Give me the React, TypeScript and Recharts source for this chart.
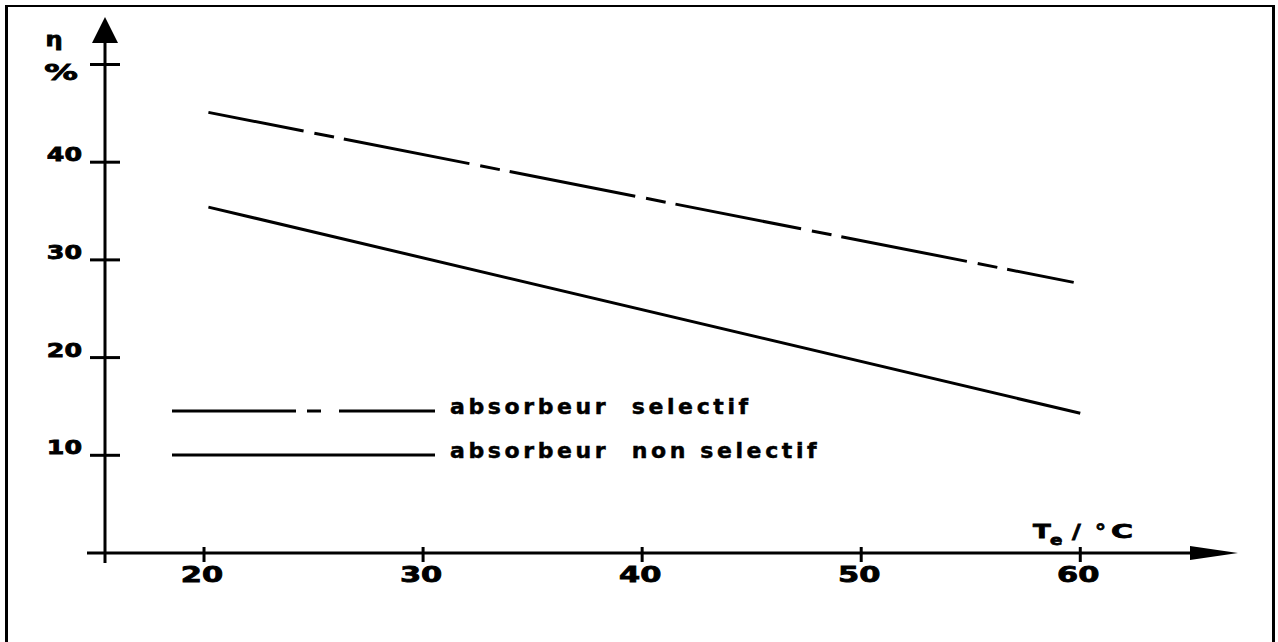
import React from "react";
import { LineChart, Line, XAxis, YAxis, ReferenceLine, Legend, Label } from "recharts";

// collector efficiency vs. inlet temperature
const selectiveTemps = [20.2, 59.7];
const selectiveEff = [45.1, 27.7];
const nonSelectiveTemps = [20.2, 60];
const nonSelectiveEff = [35.4, 14.3];

const seriesNames = ["absorbeur  selectif", "absorbeur  non selectif"];

const xTicks = [20, 30, 40, 50, 60];
const yTicks = [10, 20, 30, 40, 50];
const yTickLabels = ["10", "20", "30", "40", ""];

const X_DOMAIN: [number, number] = [15.48, 67.2];
const Y_DOMAIN: [number, number] = [0, 54.86];

const FONT = "'DejaVu Sans', sans-serif";
const INK = "#000";

const selectiveData = selectiveTemps.map((t, i) => ({ t, eff: selectiveEff[i] }));
const nonSelectiveData = nonSelectiveTemps.map((t, i) => ({ t, eff: nonSelectiveEff[i] }));

const legendDashes = ["124 11 14 18 96", undefined];

function WideText({ x, y, sx = 1, size, anchor = "start", children }: any) {
  return (
    <text
      transform={`translate(${x},${y}) scale(${sx},1)`}
      textAnchor={anchor}
      fontFamily={FONT}
      fontWeight="bold"
      fontSize={size}
      fill={INK}
      stroke={INK}
      strokeWidth={0.8}
    >
      {children}
    </text>
  );
}

function XTick({ x, y, payload }: any) {
  return (
    <g>
      <line x1={x} x2={x} y1={y - 6} y2={y + 9} stroke={INK} strokeWidth={3} />
      <WideText x={x - 2} y={y + 29} sx={1.45} size={21} anchor="middle">
        {payload.value}
      </WideText>
    </g>
  );
}

function YTick({ x, y, payload }: any) {
  const label = yTickLabels[yTicks.indexOf(payload.value)];
  return (
    <g>
      <line x1={x - 15} x2={x + 15} y1={y} y2={y} stroke={INK} strokeWidth={3} />
      {label ? (
        <WideText x={x - 23} y={y - 1} sx={1.33} size={19} anchor="end">
          {label}
        </WideText>
      ) : null}
    </g>
  );
}

// horizontal axis: runs a bit past the vertical axis, ends in an arrow
function XAxisArrow(props: any) {
  const left = Math.min(props.x1, props.x2);
  const right = Math.max(props.x1, props.x2);
  const y = props.y1;
  return (
    <g>
      <line x1={left - 18} x2={right - 40} y1={y} y2={y} stroke={INK} strokeWidth={3} />
      <polygon points={`${right},${y} ${right - 48},${y - 7} ${right - 48},${y + 7}`} fill={INK} />
    </g>
  );
}

function YAxisArrow(props: any) {
  const top = Math.min(props.y1, props.y2);
  const bottom = Math.max(props.y1, props.y2);
  const x = props.x1;
  return (
    <g>
      <line x1={x} x2={x} y1={bottom + 10} y2={top + 20} stroke={INK} strokeWidth={3} />
      <polygon points={`${x},${top} ${x - 13},${top + 26} ${x + 13},${top + 26}`} fill={INK} />
    </g>
  );
}

function YTitle({ viewBox }: any) {
  const { x, y } = viewBox;
  return (
    <g>
      <WideText x={x + 54} y={y + 29} sx={1.2} size={20} anchor="middle">
        η
      </WideText>
      <WideText x={x + 61} y={y + 63} sx={1.6} size={21} anchor="middle">
        %
      </WideText>
    </g>
  );
}

function XTitle({ viewBox }: any) {
  const right = viewBox.x + viewBox.width;
  const base = viewBox.y - 15;
  return (
    <g>
      <WideText x={right - 205} y={base} sx={1.3} size={20}>T</WideText>
      <WideText x={right - 188} y={base + 7} sx={1.3} size={14}>e</WideText>
      <WideText x={right - 166} y={base} sx={1.2} size={20}>/</WideText>
      <WideText x={right - 143} y={base} sx={1.1} size={20}>°</WideText>
      <WideText x={right - 127} y={base} sx={1.5} size={20}>C</WideText>
    </g>
  );
}

function LegendBox({ payload }: any) {
  // keep the rows in series order whatever order the payload arrives in
  const names: string[] =
    payload && payload.length
      ? payload
          .map((e: any) => e.value as string)
          .sort((a: string, b: string) => seriesNames.indexOf(a) - seriesNames.indexOf(b))
      : seriesNames;
  return (
    <svg width={700} height={80} style={{ display: "block" }}>
      {names.map((name) => {
        const i = seriesNames.indexOf(name);
        const y = 21 + i * 44;
        return (
          <g key={name}>
            <line x1={8} x2={271} y1={y} y2={y} stroke={INK} strokeWidth={3} strokeDasharray={legendDashes[i]} />
            <text
              x={286}
              y={y + 2.5}
              fontFamily={FONT}
              fontWeight="bold"
              fontSize={22}
              letterSpacing={3.6}
              fill={INK}
              stroke={INK}
              strokeWidth={0.5}
              style={{ whiteSpace: "pre" }}
            >
              {name}
            </text>
          </g>
        );
      })}
    </svg>
  );
}

export default function App() {
  return (
    <div style={{ position: "absolute", left: 0, top: 0, width: 1278, height: 642, background: "#fff", overflow: "hidden" }}>
      <div
        style={{
          position: "absolute",
          left: 5,
          top: 5,
          width: 1270,
          height: 640,
          boxSizing: "border-box",
          borderTop: "2px solid #000",
          borderLeft: "3px solid #000",
          borderRight: "3px solid #000",
        }}
      />
      <LineChart width={1278} height={642} margin={{ top: 17, right: 40, bottom: 0, left: 0 }}>
        <XAxis
          type="number"
          dataKey="t"
          domain={X_DOMAIN}
          allowDataOverflow
          ticks={xTicks}
          interval={0}
          height={89}
          axisLine={false}
          tickLine={false}
          tickSize={0}
          tickMargin={0}
          tick={<XTick />}
        >
          <Label content={<XTitle />} />
        </XAxis>
        <YAxis
          type="number"
          domain={Y_DOMAIN}
          allowDataOverflow
          ticks={yTicks}
          interval={0}
          width={105}
          axisLine={false}
          tickLine={false}
          tickSize={0}
          tickMargin={0}
          tick={<YTick />}
        >
          <Label content={<YTitle />} />
        </YAxis>
        <ReferenceLine
          segment={[{ x: X_DOMAIN[0], y: 0 }, { x: X_DOMAIN[1], y: 0 }]}
          ifOverflow="visible"
          shape={(p: any) => <XAxisArrow {...p} />}
        />
        <ReferenceLine
          segment={[{ x: X_DOMAIN[0], y: Y_DOMAIN[0] }, { x: X_DOMAIN[0], y: Y_DOMAIN[1] }]}
          ifOverflow="visible"
          shape={(p: any) => <YAxisArrow {...p} />}
        />
        <Line
          data={selectiveData}
          dataKey="eff"
          name={seriesNames[0]}
          type="linear"
          stroke={INK}
          strokeWidth={3}
          strokeDasharray="128 11 20 10"
          strokeDashoffset={31}
          dot={false}
          activeDot={false}
          isAnimationActive={false}
        />
        <Line
          data={nonSelectiveData}
          dataKey="eff"
          name={seriesNames[1]}
          type="linear"
          stroke={INK}
          strokeWidth={3}
          dot={false}
          activeDot={false}
          isAnimationActive={false}
        />
        <Legend
          layout="vertical"
          align="center"
          verticalAlign="middle"
          wrapperStyle={{ left: 164, top: 390, width: 700, height: 80 }}
          content={(p: any) => <LegendBox payload={p.payload} />}
        />
      </LineChart>
    </div>
  );
}
